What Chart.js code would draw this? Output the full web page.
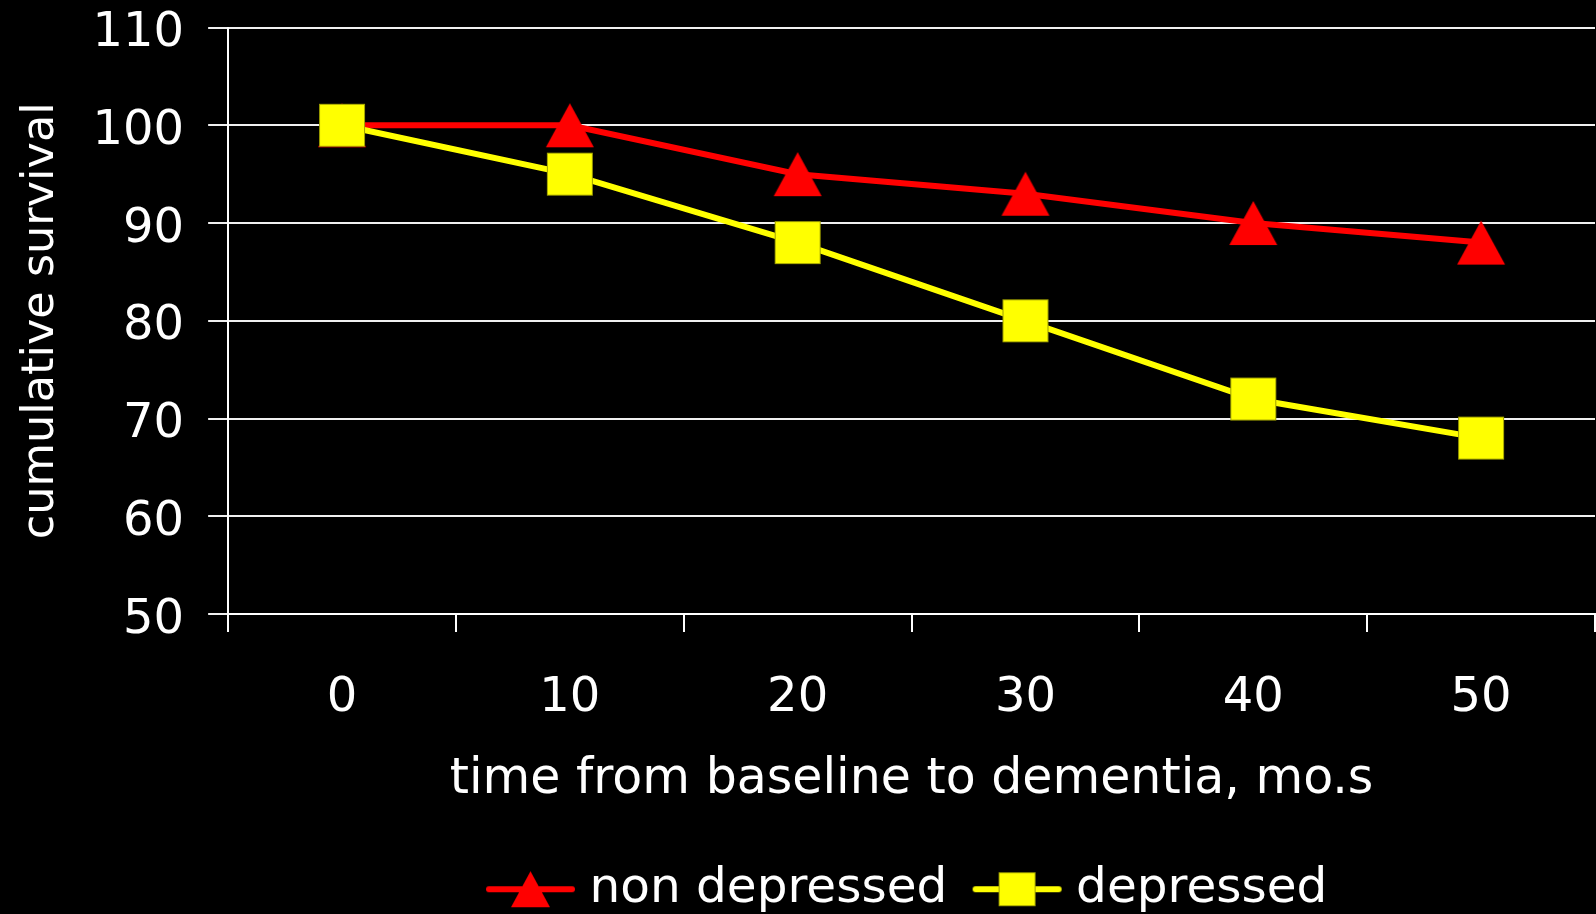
<!DOCTYPE html>
<html>
<head>
<meta charset="utf-8">
<script src="https://cdn.jsdelivr.net/npm/chart.js@4/dist/chart.umd.min.js"></script>
<style>
  html, body { margin: 0; padding: 0; background: #000; }
  #wrap { width: 1596px; height: 914px; }
</style>
</head>
<body>
<div id="wrap"><canvas id="c" width="1596" height="914"></canvas></div>
<script>
// Months since baseline (category axis)
const months = ['0', '10', '20', '30', '40', '50'];
// Cumulative survival (%) per group
const nonDepressed = [100, 100, 95, 93, 90, 88];
const depressed = [100, 95, 88, 80, 72, 68];
// Y axis range and step
const yTicks = { min: 50, max: 110, step: 10 };

const RED = '#ff0000';
const YELLOW = '#ffff00';
const FONT = 'DejaVu Sans';

// Marker drawn as a small canvas so it is centred on its bounding box
function drawShape(ctx, shape, cx, cy, w, h, color) {
  ctx.fillStyle = color;
  ctx.beginPath();
  if (shape === 'triangle') {
    ctx.moveTo(cx, cy - h / 2);
    ctx.lineTo(cx + w / 2, cy + h / 2);
    ctx.lineTo(cx - w / 2, cy + h / 2);
    ctx.closePath();
    ctx.fill();
  } else {
    ctx.rect(cx - w / 2, cy - h / 2, w, h);
    ctx.fill();
    ctx.lineWidth = 1;
    ctx.strokeStyle = 'rgba(150,150,0,0.9)';
    ctx.strokeRect(cx - w / 2 + 0.5, cy - h / 2 + 0.5, w - 1, h - 1);
  }
}

function makeMarker(shape, w, h, color) {
  const c = document.createElement('canvas');
  c.width = w + 2;
  c.height = h + 2;
  drawShape(c.getContext('2d'), shape, c.width / 2, c.height / 2, w, h, color);
  return c;
}

// Legend key: a short line with the marker in its middle
function makeLegendIcon(shape, len, w, h, color) {
  const c = document.createElement('canvas');
  c.width = len + 2;
  c.height = h + 4;
  const ctx = c.getContext('2d');
  const cy = c.height / 2;
  ctx.strokeStyle = color;
  ctx.lineWidth = 6;
  ctx.lineCap = 'round';
  ctx.beginPath();
  ctx.moveTo(4, cy);
  ctx.lineTo(c.width - 4, cy);
  ctx.stroke();
  drawShape(ctx, shape, c.width / 2, cy, w, h, color);
  return c;
}

const triMarker = makeMarker('triangle', 48, 44, RED);
const sqMarker = makeMarker('square', 46, 43, YELLOW);
const triIcon = makeLegendIcon('triangle', 89, 39, 36, RED);
const sqIcon = makeLegendIcon('square', 89, 37, 34, YELLOW);

const chart = new Chart(document.getElementById('c'), {
  type: 'line',
  data: {
    labels: months,
    datasets: [
      {
        label: 'non depressed',
        data: nonDepressed,
        borderColor: RED,
        backgroundColor: RED,
        borderWidth: 6,
        pointStyle: triMarker,
        pointRadius: 22,
        tension: 0,
        order: 1,
        legendIcon: triIcon
      },
      {
        label: 'depressed',
        data: depressed,
        borderColor: YELLOW,
        backgroundColor: YELLOW,
        borderWidth: 6,
        pointStyle: sqMarker,
        pointRadius: 22,
        tension: 0,
        order: 0,
        legendIcon: sqIcon
      }
    ]
  },
  options: {
    responsive: false,
    devicePixelRatio: 1,
    animation: false,
    layout: { autoPadding: false, padding: { top: 0, right: 1, left: 4, bottom: -9.5 } },
    plugins: {
      tooltip: { enabled: false },
      legend: {
        position: 'bottom',
        fullSize: false,
        labels: {
          color: '#ffffff',
          font: { family: FONT, size: 48.5 },
          usePointStyle: true,
          pointStyleWidth: 69.5,
          padding: 35,
          generateLabels: (ch) => ch.data.datasets.map((ds, i) => ({
            text: ds.label,
            fontColor: '#ffffff',
            pointStyle: ds.legendIcon,
            fillStyle: ds.borderColor,
            strokeStyle: ds.borderColor,
            lineWidth: 0,
            hidden: false,
            datasetIndex: i
          }))
        }
      }
    },
    scales: {
      x: {
        type: 'category',
        offset: true,
        grid: {
          offset: true,
          drawOnChartArea: false,
          color: '#ffffff',
          lineWidth: 2,
          tickLength: 18
        },
        border: { color: '#ffffff', width: 2 },
        ticks: {
          color: '#ffffff',
          font: { family: FONT, size: 48 },
          padding: 37.6,
          maxRotation: 0
        },
        title: {
          display: true,
          text: 'time from baseline to dementia, mo.s',
          color: '#ffffff',
          font: { family: FONT, size: 49 },
          padding: { top: -14.2, bottom: 20.5 }
        }
      },
      y: {
        min: yTicks.min,
        max: yTicks.max,
        grid: {
          color: '#f0f0f0',
          lineWidth: 2,
          tickLength: 20
        },
        border: { color: '#ffffff', width: 2 },
        ticks: {
          stepSize: yTicks.step,
          color: '#ffffff',
          font: { family: FONT, size: 48, lineHeight: 0.146 },
          padding: 24,
          labelOffset: 6
        },
        title: {
          display: true,
          text: 'cumulative survival',
          color: '#ffffff',
          font: { family: FONT, size: 44.6 },
          padding: { top: 11, bottom: 0 }
        }
      }
    }
  }
});
</script>
</body>
</html>
